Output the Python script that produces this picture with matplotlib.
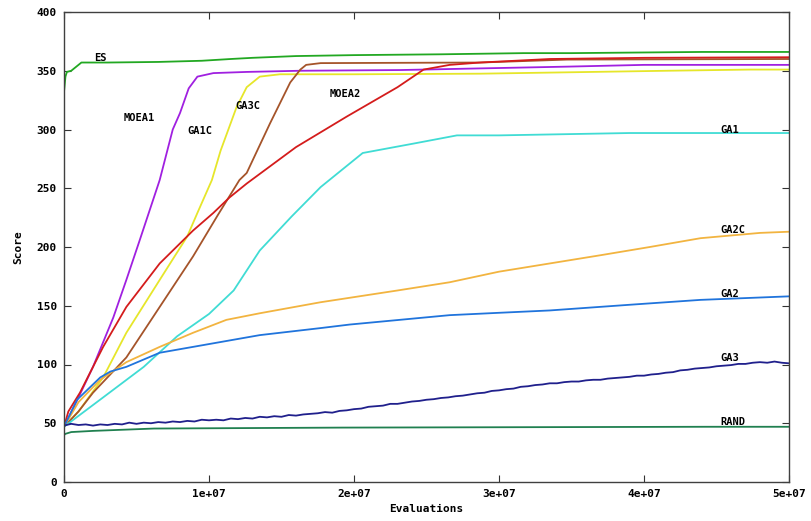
import matplotlib
matplotlib.use("Agg")
import matplotlib.pyplot as plt
import numpy as np

E = 1e7
# ---- data (x in units of 1e7 evaluations) ----
es_x = [0, 0, 0.01, 0.02, 0.05, 0.08, 0.12, 0.3, 0.65, 0.95, 1.15, 1.3, 1.6, 2.0, 2.6, 3.17, 3.5, 4.4, 5.0]
es_y = [0, 332, 345, 349, 350, 353, 357, 357, 357.5, 358.5, 360, 361, 362.5, 363.3, 364, 365, 365, 366, 366]

moea1_x = [0, 0.1, 0.2, 0.34, 0.43, 0.52, 0.66, 0.75, 0.8, 0.86, 0.92, 1.03, 1.26, 1.63, 2.32, 2.87, 3.47, 4.0, 5.0]
moea1_y = [47, 72, 98, 140, 172, 205, 257, 300, 314, 335, 345, 348, 349, 350, 350.6, 352, 353.5, 355, 355]

ga1c_x = [0, 0.1, 0.27, 0.43, 0.66, 0.85, 0.92, 1.02, 1.08, 1.19, 1.26, 1.35, 1.49, 2.0, 2.87, 4.16, 4.73, 5.0]
ga1c_y = [47, 60, 89, 127, 172, 209, 229, 257, 282, 319, 336, 345, 347, 347, 347.5, 350, 351, 351]

ga3c_x = [0, 0.1, 0.2, 0.43, 0.66, 0.89, 1.06, 1.21, 1.26, 1.42, 1.56, 1.63, 1.67, 1.77, 2.87, 3.47, 5.0]
ga3c_y = [47, 60, 76, 106, 149, 192, 227, 257, 263, 305, 340, 351, 355, 356.5, 357, 359.5, 360]

moea2_x = [0, 0.03, 0.11, 0.27, 0.43, 0.66, 0.89, 1.03, 1.14, 1.26, 1.6, 1.95, 2.3, 2.48, 2.66, 2.87, 3.35, 4.0, 5.0]
moea2_y = [47, 60, 76, 115, 149, 186, 214, 229, 242, 254, 285, 311, 336, 351, 355, 357, 360, 361, 361.5]

ga1_x = [0, 0.27, 0.55, 0.78, 1.0, 1.17, 1.35, 1.57, 1.77, 1.83, 2.06, 2.41, 2.71, 3.0, 3.9, 5.0]
ga1_y = [47, 72, 98, 124, 143, 163, 197, 226, 251, 257, 280, 288, 295, 295, 297, 297]

ga2c_x = [0, 0.1, 0.25, 0.43, 0.66, 0.89, 1.12, 1.35, 1.77, 2.3, 2.66, 3.0, 3.7, 4.04, 4.39, 4.8, 5.0]
ga2c_y = [47, 68, 87, 102, 115, 127, 138, 143.6, 153, 163, 170, 179, 193, 200, 207.5, 212, 213]

ga2_x = [0, 0.09, 0.25, 0.32, 0.43, 0.66, 0.89, 1.35, 1.77, 1.97, 2.66, 3.0, 3.35, 3.92, 4.39, 5.0]
ga2_y = [47, 70, 89, 94, 98, 110, 115, 125, 131, 134, 142, 144, 146, 151, 155, 158]

ga3_x = [i * 0.05 for i in range(101)]
ga3_y = [48, 49.5, 48.5, 49, 48, 49, 48.5, 49.5, 49, 50.5,
         49.5, 50.5, 50, 51, 50.5, 51.5, 51, 52, 51.5, 53,
         52.5, 53, 52.5, 54, 53.5, 54.5, 54, 55.5, 55, 56,
         55.5, 57, 56.5, 57.5, 58, 58.5, 59.5, 59, 60.5, 61,
         62, 62.5, 64, 64.5, 65, 66.5, 66.5, 67.5, 68.5, 69,
         70, 70.5, 71.5, 72, 73, 73.5, 74.5, 75.5, 76, 77.5,
         78, 79, 79.5, 81, 81.5, 82.5, 83, 84, 84, 85,
         85.5, 85.5, 86.5, 87, 87, 88, 88.5, 89, 89.5, 90.5,
         90.5, 91.5, 92, 93, 93.5, 95, 95.5, 96.5, 97, 97.5,
         98.5, 99, 99.5, 100.5, 100.5, 101.5, 102, 101.5, 102.5, 101.5,
         101]

rand_x = [0, 0, 0.01, 0.05, 0.2, 0.62, 1.92, 4.43, 5.0]
rand_y = [0, 40, 41, 42.5, 43.5, 45.5, 46.3, 47, 47]

labels = ["ES", "MOEA1", "GA1C", "GA3C", "MOEA2", "GA1", "GA2C", "GA2", "GA3", "RAND"]
label_x = [0.25, 0.52, 0.94, 1.27, 1.94, 4.59, 4.61, 4.59, 4.59, 4.61]
label_y = [361, 310, 299, 320, 330, 300, 214.5, 160, 105.5, 51]

xticks = [0, 1, 2, 3, 4, 5]
xtick_labels = ["0", "1e+07", "2e+07", "3e+07", "4e+07", "5e+07"]
yticks = [0, 50, 100, 150, 200, 250, 300, 350, 400]

series = [
    (es_x, es_y, "#22a822"),
    (moea1_x, moea1_y, "#a020e0"),
    (ga1c_x, ga1c_y, "#e6e62a"),
    (ga3c_x, ga3c_y, "#a5542a"),
    (moea2_x, moea2_y, "#d41c1c"),
    (ga1_x, ga1_y, "#40dcd4"),
    (ga2c_x, ga2c_y, "#f2b440"),
    (ga2_x, ga2_y, "#2074dc"),
    (ga3_x, ga3_y, "#20208c"),
    (rand_x, rand_y, "#208050"),
]

fig = plt.figure(figsize=(8.11, 5.21), dpi=100)
ax = fig.add_axes([64 / 811, 39 / 521, 725 / 811, 470 / 521])

for xs, ys, c in series:
    ax.plot(np.array(xs) * E, ys, color=c, lw=1.3, solid_joinstyle="round")

font = dict(family="DejaVu Sans Mono", weight="bold", size=7.5)
for t, lx, ly in zip(labels, label_x, label_y):
    ax.text(lx * E, ly, t, ha="center", va="center", fontdict=font, color="black")

ax.set_xlim(0, 5 * E)
ax.set_ylim(0, 400)
ax.set_xticks([v * E for v in xticks])
ax.set_xticklabels(xtick_labels)
ax.set_yticks(yticks)
ax.set_yticklabels([str(v) for v in yticks])
for lab in ax.get_xticklabels() + ax.get_yticklabels():
    lab.set_fontfamily("DejaVu Sans Mono")
    lab.set_fontweight("bold")
    lab.set_fontsize(8)
ax.tick_params(direction="in", length=5, width=0.8, top=True, right=True, pad=5, color="#333333")
for s in ax.spines.values():
    s.set_color("#404040")
    s.set_linewidth(1.0)

ax.set_xlabel("Evaluations", fontfamily="DejaVu Sans Mono", fontweight="bold", fontsize=8, labelpad=4)
ax.set_ylabel("Score", fontfamily="DejaVu Sans Mono", fontweight="bold", fontsize=8, labelpad=10)

fig.savefig("out.png", dpi=100)
